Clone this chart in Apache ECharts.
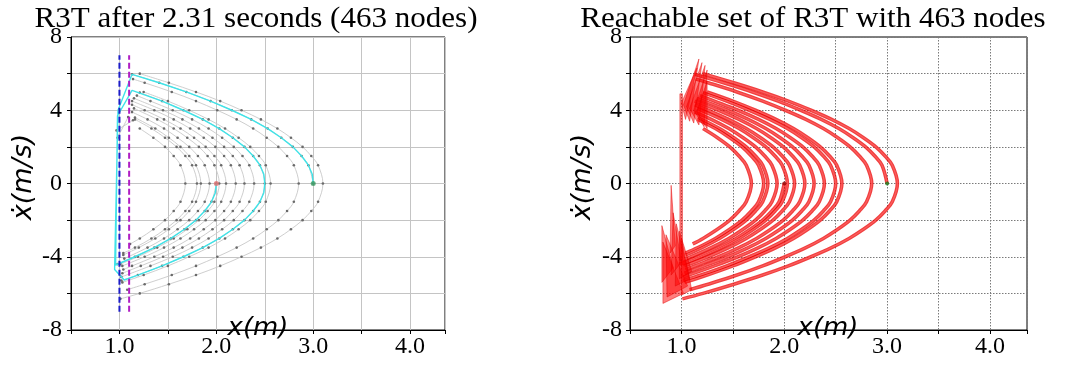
<!DOCTYPE html>
<html>
<head>
<meta charset="utf-8">
<title>R3T tree and reachable set</title>
<script src="https://cdn.jsdelivr.net/npm/echarts@6.0.0/dist/echarts.min.js"></script>
<style>
  html, body { margin: 0; padding: 0; background: #fff; }
  #main { width: 1075px; height: 379px; }
</style>
</head>
<body>
<div id="main"></div>
<script>
// ---- axes ----
const xRange = [0.5, 4.36];
const yRange = [-8, 8];
const xTickLabels = [1, 2, 3, 4];
const yTickLabels = [-8, -4, 0, 4, 8];

// ---- states ----
const startState = [2.0, 0];
const goalState = [3.0, 0];
const wallLine = [[1.0, -7], [1.0, 7]];
const guardLine = [[1.1, -7], [1.1, 7]];

// ---- tree trajectories (x, xdot), one node per point ----
const rootArc = [[2.0, 0], [1.95, -1], [1.88, -1.5], [1.79, -2], [1.67, -2.5], [1.53, -3], [1.36, -3.5], [1.16, -4], [0.98, -4.4]];
const arcA = [[1.21, 3], [1.35, 2.5], [1.47, 2], [1.56, 1.5], [1.63, 1], [1.68, 0], [1.63, -1], [1.56, -1.5], [1.47, -2], [1.35, -2.5], [1.21, -3], [1.11, -3.3]];
const arcB = [[1.16, 3.5], [1.33, 3], [1.47, 2.5], [1.59, 2], [1.68, 1.5], [1.75, 1], [1.80, 0], [1.75, -1], [1.68, -1.5], [1.59, -2], [1.47, -2.5], [1.33, -3], [1.16, -3.5], [1.04, -3.8]];
const arcC = [[1.16, 3.6], [1.37, 3], [1.51, 2.5], [1.63, 2], [1.72, 1.5], [1.79, 1], [1.84, 0], [1.79, -1], [1.72, -1.5], [1.63, -2], [1.51, -2.5], [1.37, -3], [1.20, -3.5], [1.04, -3.9]];
const arcD = [[1.13, 3.9], [1.29, 3.5], [1.46, 3], [1.60, 2.5], [1.72, 2], [1.81, 1.5], [1.88, 1], [1.93, 0], [1.88, -1], [1.81, -1.5], [1.72, -2], [1.60, -2.5], [1.46, -3], [1.29, -3.5], [1.05, -4.1]];
const arcE = [[1.15, 4.1], [1.39, 3.5], [1.56, 3], [1.70, 2.5], [1.82, 2], [1.91, 1.5], [1.98, 1], [2.03, 0], [1.98, -1], [1.91, -1.5], [1.82, -2], [1.70, -2.5], [1.56, -3], [1.39, -3.5], [1.19, -4], [1.01, -4.4]];
const arcF = [[1.13, 4.3], [1.26, 4], [1.46, 3.5], [1.63, 3], [1.77, 2.5], [1.89, 2], [1.98, 1.5], [2.05, 1], [2.10, 0], [2.05, -1], [1.98, -1.5], [1.89, -2], [1.77, -2.5], [1.63, -3], [1.46, -3.5], [1.26, -4], [1.03, -4.5]];
const arcG = [[1.13, 4.5], [1.36, 4], [1.56, 3.5], [1.73, 3], [1.87, 2.5], [1.99, 2], [2.08, 1.5], [2.15, 1], [2.20, 0], [2.15, -1], [2.08, -1.5], [1.99, -2], [1.87, -2.5], [1.73, -3], [1.56, -3.5], [1.36, -4], [1.13, -4.5], [1.04, -4.7]];
const arcH = [[1.15, 4.65], [1.45, 4], [1.65, 3.5], [1.82, 3], [1.96, 2.5], [2.08, 2], [2.17, 1.5], [2.24, 1], [2.29, 0], [2.24, -1], [2.17, -1.5], [2.08, -2], [1.96, -2.5], [1.82, -3], [1.65, -3.5], [1.45, -4], [1.22, -4.5], [1.03, -4.9]];
const arcI = [[1.18, 4.8], [1.32, 4.5], [1.55, 4], [1.75, 3.5], [1.92, 3], [2.06, 2.5], [2.18, 2], [2.27, 1.5], [2.34, 1], [2.39, 0], [2.34, -1], [2.27, -1.5], [2.18, -2], [2.06, -2.5], [1.92, -3], [1.75, -3.5], [1.55, -4], [1.32, -4.5], [1.02, -5.1]];
const arcJ = [[1.21, 4.96], [1.44, 4.5], [1.66, 4], [1.86, 3.5], [2.03, 3], [2.17, 2.5], [2.29, 2], [2.38, 1.5], [2.45, 1], [2.50, 0], [2.45, -1], [2.38, -1.5], [2.29, -2], [2.17, -2.5], [2.03, -3], [1.86, -3.5], [1.66, -4], [1.44, -4.5], [1.19, -5], [1.02, -5.3]];
const arcK = [[1.25, 5], [1.50, 4.5], [1.72, 4], [1.92, 3.5], [2.09, 3], [2.23, 2.5], [2.35, 2], [2.44, 1.5], [2.51, 1], [2.56, 0], [2.51, -1], [2.44, -1.5], [2.35, -2], [2.23, -2.5], [2.09, -3], [1.92, -3.5], [1.72, -4], [1.50, -4.5], [1.25, -5], [1.03, -5.4]];
const arcL = [[1.14, 5.7], [1.26, 5.5], [1.54, 5], [1.79, 4.5], [2.01, 4], [2.21, 3.5], [2.38, 3], [2.52, 2.5], [2.64, 2], [2.73, 1.5], [2.80, 1], [2.85, 0], [2.80, -1], [2.73, -1.5], [2.64, -2], [2.52, -2.5], [2.38, -3], [2.21, -3.5], [2.01, -4], [1.79, -4.5], [1.54, -5], [1.26, -5.5], [1.08, -5.8]];
const arcM = [[1.13, 5.96], [1.41, 5.5], [1.69, 5], [1.94, 4.5], [2.16, 4], [2.36, 3.5], [2.53, 3], [2.67, 2.5], [2.79, 2], [2.88, 1.5], [2.95, 1], [3.0, 0]];
const arcN = [[1.21, 6], [1.51, 5.5], [1.79, 5], [2.04, 4.5], [2.26, 4], [2.46, 3.5], [2.63, 3], [2.77, 2.5], [2.89, 2], [2.98, 1.5], [3.05, 1], [3.10, 0], [3.05, -1], [2.98, -1.5], [2.89, -2], [2.77, -2.5], [2.63, -3], [2.46, -3.5], [2.26, -4], [2.04, -4.5], [1.79, -5], [1.51, -5.5], [1.21, -6], [1.01, -6.3]];
const bounceLinkA = [[0.98, 2.5], [1.09, 3.63]];
const bounceLinkB = [[0.97, 2.9], [1.14, 3.45]];

// ---- solution path from start to goal ----
const solutionPath = [
  [2.0, 0], [1.99, -0.5], [1.95, -1], [1.88, -1.5], [1.79, -2], [1.67, -2.5], [1.53, -3], [1.36, -3.5], [1.16, -4], [0.96, -4.45],
  [0.98, 3.7], [1.13, 5.09],
  [1.44, 4.5], [1.66, 4], [1.86, 3.5], [2.03, 3], [2.17, 2.5], [2.29, 2], [2.38, 1.5], [2.45, 1], [2.49, 0.5], [2.5, 0],
  [2.49, -0.5], [2.45, -1], [2.38, -1.5], [2.29, -2], [2.17, -2.5], [2.03, -3], [1.86, -3.5], [1.66, -4], [1.44, -4.5], [1.19, -5], [1.05, -5.27],
  [0.95, -4.7], [0.985, 4.0], [1.13, 5.96],
  [1.41, 5.5], [1.69, 5], [1.94, 4.5], [2.16, 4], [2.36, 3.5], [2.53, 3], [2.67, 2.5], [2.79, 2], [2.88, 1.5], [2.95, 1], [2.99, 0.5], [3.0, 0]
];

// ---- reachable-set polygons at the contact nodes ----
const reachTop = [
  [[1.00, 4.4], [1.04, 3.5], [1.15, 6.3]],
  [[1.02, 4.3], [1.08, 3.4], [1.17, 6.8]],
  [[1.05, 4.2], [1.12, 3.3], [1.20, 6.6]],
  [[1.08, 4.1], [1.17, 3.2], [1.23, 6.45]],
  [[1.12, 4.0], [1.22, 3.1], [1.25, 6.2]],
  [[1.15, 3.9], [1.25, 3.0], [1.25, 5.6]]
];
const reachBottom = [
  [[0.81, -2.3], [0.81, -5.4], [0.92, -4.6]],
  [[0.82, -3.2], [0.82, -6.55], [1.02, -6.0]],
  [[0.85, -2.8], [0.86, -6.2], [1.06, -5.6]],
  [[0.90, -0.1], [0.89, -3.8], [0.94, -3.4]],
  [[0.92, -1.6], [0.90, -5.0], [1.00, -4.3]],
  [[0.95, -2.2], [0.94, -5.6], [1.08, -5.2]],
  [[0.98, -2.6], [0.98, -5.2], [1.10, -4.8]],
  [[1.00, -3.0], [1.00, -6.1], [1.10, -5.8]]
];
const reachWall = [[[0.985, -4.2], [1.01, -4.2], [1.01, 4.9], [0.985, 4.9]]];

// ---- drawing ----
const treeArcs = [rootArc, arcA, arcB, arcC, arcD, arcE, arcF, arcG, arcH, arcI, arcJ, arcK, arcL, arcM, arcN];
const reachPolys = reachTop.concat(reachBottom, reachWall);

const SERIF = '"Liberation Serif", "Times New Roman", serif';
const SANS = '"DejaVu Sans", sans-serif';

const grids = [
  { left: 71, top: 37, width: 374, height: 293 },
  { left: 630, top: 37, width: 397, height: 293 }
];

function makeX(i, split) {
  return {
    type: 'value', gridIndex: i, min: xRange[0], max: xRange[1], interval: 0.5,
    axisLine: { show: true, onZero: false, lineStyle: { color: '#000', width: 1 } },
    axisTick: { show: true, inside: false, length: 4, lineStyle: { color: '#000', width: 1 } },
    axisLabel: {
      show: true, margin: 5, color: '#000', fontFamily: SERIF, fontSize: 24, hideOverlap: false,
      formatter: v => xTickLabels.some(t => Math.abs(t - v) < 1e-6) ? v.toFixed(1) : ''
    },
    splitLine: { show: true, lineStyle: split }
  };
}
function makeY(i, split, margin) {
  return {
    type: 'value', gridIndex: i, min: yRange[0], max: yRange[1], interval: 2,
    axisLine: { show: true, onZero: false, lineStyle: { color: '#000', width: 1 } },
    axisTick: { show: true, inside: false, length: 4, lineStyle: { color: '#000', width: 1 } },
    axisLabel: {
      show: true, margin: margin, color: '#000', fontFamily: SERIF, fontSize: 24, hideOverlap: false,
      formatter: v => yTickLabels.some(t => Math.abs(t - v) < 1e-6) ? String(v) : ''
    },
    splitLine: { show: true, lineStyle: split }
  };
}

const solidGrid = { color: '#c4c4c4', width: 1, type: 'solid' };
const dottedGrid = { color: '#7a7a7a', width: 1, type: [1.5, 1.5] };

const series = [];

// left: tree
treeArcs.forEach(arc => series.push({
  type: 'line', xAxisIndex: 0, yAxisIndex: 0, data: arc, smooth: 0.35,
  lineStyle: { color: '#c8c8c8', width: 0.9 },
  symbol: 'circle', symbolSize: 2.6, showSymbol: true, itemStyle: { color: '#6a6a6a' },
  silent: true, animation: false, z: 2
}));
[bounceLinkA, bounceLinkB].forEach(link => series.push({
  type: 'line', xAxisIndex: 0, yAxisIndex: 0, data: link,
  lineStyle: { color: '#c8c8c8', width: 0.9 },
  symbol: 'circle', symbolSize: 2.6, itemStyle: { color: '#6a6a6a' },
  silent: true, animation: false, z: 2
}));
series.push({
  type: 'line', xAxisIndex: 0, yAxisIndex: 0, data: solutionPath,
  lineStyle: { color: '#3fe3e8', width: 1.4 }, symbol: 'none',
  silent: true, animation: false, z: 4
});
series.push({
  type: 'line', xAxisIndex: 0, yAxisIndex: 0, data: wallLine,
  lineStyle: { color: '#1c1cc8', width: 2, type: [6, 3] }, symbol: 'none',
  silent: true, animation: false, z: 5
});
series.push({
  type: 'line', xAxisIndex: 0, yAxisIndex: 0, data: guardLine,
  lineStyle: { color: '#b01ec4', width: 2, type: [6, 3] }, symbol: 'none',
  silent: true, animation: false, z: 5
});
series.push({
  type: 'scatter', xAxisIndex: 0, yAxisIndex: 0, data: [startState],
  symbolSize: 5, itemStyle: { color: '#e07070' }, silent: true, animation: false, z: 6
});
series.push({
  type: 'scatter', xAxisIndex: 0, yAxisIndex: 0, data: [goalState],
  symbolSize: 5, itemStyle: { color: '#3c9c64' }, silent: true, animation: false, z: 6
});

// right: reachable set
treeArcs.forEach(arc => {
  series.push({
    type: 'line', xAxisIndex: 1, yAxisIndex: 1, data: arc, smooth: 0.35,
    lineStyle: { color: 'rgba(235,0,0,0.75)', width: 3.6 }, symbol: 'none',
    silent: true, animation: false, z: 2
  });
  series.push({
    type: 'line', xAxisIndex: 1, yAxisIndex: 1, data: arc, smooth: 0.35,
    lineStyle: { color: 'rgba(255,100,100,0.85)', width: 1.1 }, symbol: 'none',
    silent: true, animation: false, z: 3
  });
});
series.push({
  type: 'custom', xAxisIndex: 1, yAxisIndex: 1, silent: true, animation: false, z: 4,
  data: reachPolys.map((p, i) => [p[0][0], p[0][1], i]),
  encode: { x: 0, y: 1 },
  renderItem: (params, api) => {
    const poly = reachPolys[api.value(2)];
    return {
      type: 'polygon',
      shape: { points: poly.map(pt => api.coord(pt)) },
      style: { fill: 'rgba(255,0,0,0.5)', stroke: 'rgba(225,0,0,0.75)', lineWidth: 0.6 }
    };
  }
});
series.push({
  type: 'scatter', xAxisIndex: 1, yAxisIndex: 1, data: [startState],
  symbolSize: 4, itemStyle: { color: '#9a0000' }, silent: true, animation: false, z: 6
});
series.push({
  type: 'scatter', xAxisIndex: 1, yAxisIndex: 1, data: [goalState],
  symbolSize: 4, itemStyle: { color: '#1a7a1a' }, silent: true, animation: false, z: 6
});

function label(text, x, y, size, family, opts) {
  return Object.assign({
    type: 'text', x: x, y: y, silent: true, z: 10,
    style: { text: text, fontSize: size, fontFamily: family, fill: '#000', align: 'center', verticalAlign: 'middle' }
  }, opts || {});
}
function italic(g) { g.style.fontStyle = 'italic'; return g; }

const chart = echarts.init(document.getElementById('main'), null, { renderer: 'canvas' });
chart.setOption({
  backgroundColor: '#fff',
  animation: false,
  grid: grids.map(g => Object.assign({ show: true, borderColor: '#000', borderWidth: 1, containLabel: false }, g)),
  xAxis: [makeX(0, solidGrid), makeX(1, dottedGrid)],
  yAxis: [makeY(0, solidGrid, 9), makeY(1, dottedGrid, 8)],
  series: series,
  graphic: [
    label('R3T after 2.31 seconds (463 nodes)', 256, 19, 29, SERIF, { scaleX: 1.07 }),
    label('Reachable set of R3T with 463 nodes', 813, 19, 29, SERIF, { scaleX: 1.07 }),
    italic(label('x(m)', 258, 329, 24, SANS, { scaleX: 1.08 })),
    italic(label('x(m)', 828, 329, 24, SANS, { scaleX: 1.08 })),
    italic(label('\u1E8B(m/s)', 24, 177, 27, SANS, { rotation: Math.PI / 2 })),
    italic(label('\u1E8B(m/s)', 583, 177, 27, SANS, { rotation: Math.PI / 2 }))
  ]
});
</script>
</body>
</html>
